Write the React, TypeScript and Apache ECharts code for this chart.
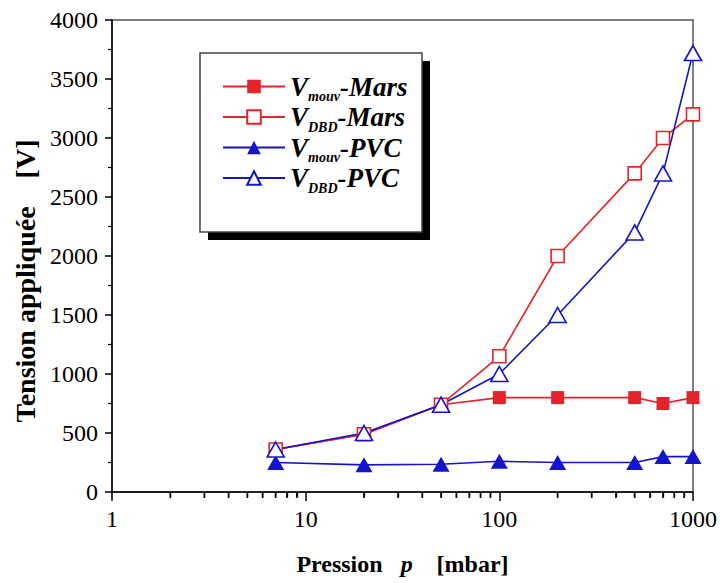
import { useEffect, useRef } from "react";
import * as echarts from "echarts";

const pressures = [7, 20, 50, 100, 200, 500, 700, 1000];
const vMouvMars = [360, 490, 740, 800, 800, 800, 750, 800];
const vDbdMars = [360, 490, 740, 1150, 2000, 2700, 3000, 3200];
const vMouvPvc = [250, 230, 235, 260, 250, 250, 300, 300];
const vDbdPvc = [360, 500, 740, 1000, 1500, 2200, 2700, 3720];
const minorXTicks = [2, 3, 4, 5, 6, 7, 8, 9, 20, 30, 40, 50, 60, 70, 80, 90, 200, 300, 400, 500, 600, 700, 800, 900];

const seriesNames = ["Vmouv-Mars", "VDBD-Mars", "Vmouv-PVC", "VDBD-PVC"];
const legendParts: Record<string, [string, string, string]> = {
  "Vmouv-Mars": ["V", "mouv", "-Mars"],
  "VDBD-Mars": ["V", "DBD", "-Mars"],
  "Vmouv-PVC": ["V", "mouv", "-PVC"],
  "VDBD-PVC": ["V", "DBD", "-PVC"],
};

const RED = "#e3242b";
const BLUE = "#1414c8";
const SERIF = "Liberation Serif";

const pair = (ys: number[]) => pressures.map((p, i) => [p, ys[i]]);

export default function App() {
  const ref = useRef<HTMLDivElement>(null);
  useEffect(() => {
    if (!ref.current) return;
    const chart = echarts.init(ref.current, null, { renderer: "svg" });
    const lineSeries = (name: string, ys: number[], color: string, symbol: string, size: number | number[], filled: boolean) => ({
      type: "line",
      name,
      data: pair(ys),
      symbol,
      symbolSize: size,
      showAllSymbol: true,
      lineStyle: { color, width: 1.6 },
      itemStyle: { color: filled ? color : "#ffffff", borderColor: color, borderWidth: filled ? 0 : 1.6 },
      emphasis: { disabled: true },
      z: 3,
    });
    const txt = { fontFamily: SERIF, color: "#000" };
    chart.setOption({
      animation: false,
      backgroundColor: "#ffffff",
      textStyle: { fontFamily: SERIF },
      grid: { left: 112, right: 26, top: 20, bottom: 91, show: true, borderColor: "#555", borderWidth: 1.5 },
      xAxis: {
        type: "log",
        logBase: 10,
        min: 1,
        max: 1000,
        name: "Pression   {i|p}    [mbar]",
        nameLocation: "middle",
        nameGap: 60,
        nameTextStyle: {
          ...txt,
          fontWeight: "bold",
          fontSize: 24,
          rich: { i: { ...txt, fontWeight: "bold", fontStyle: "italic", fontSize: 24 } },
        },
        axisLine: { show: true, onZero: false, lineStyle: { color: "#000", width: 1.5 } },
        axisTick: { show: true, inside: false, length: 9, lineStyle: { color: "#000", width: 1.5 } },
        minorTick: { show: true, splitNumber: 9, length: 5, lineStyle: { color: "#000", width: 1.3 } },
        axisLabel: { ...txt, fontSize: 24, margin: 15, formatter: (v: number) => String(v) },
        splitLine: { show: false },
        minorSplitLine: { show: false },
      },
      yAxis: {
        type: "value",
        min: 0,
        max: 4000,
        interval: 500,
        name: "Tension appliquée    [V]",
        nameLocation: "middle",
        nameGap: 72,
        nameTextStyle: { ...txt, fontWeight: "bold", fontSize: 28, padding: [0, 50, 0, 0] },
        axisLine: { show: true, lineStyle: { color: "#000", width: 1.5 } },
        axisTick: { show: true, length: 7, lineStyle: { color: "#000", width: 1.5 } },
        minorTick: { show: true, splitNumber: 2, length: 4, lineStyle: { color: "#000", width: 1.2 } },
        axisLabel: { ...txt, fontSize: 24, margin: 14, formatter: (v: number) => String(v) },
        splitLine: { show: false },
      },
      legend: {
        data: seriesNames,
        orient: "vertical",
        left: 222,
        top: 73,
        padding: 0,
        itemGap: 0,
        itemWidth: 62,
        itemHeight: 17,
        selectedMode: false,
        formatter: (name: string) => {
          const [v, s, n] = legendParts[name];
          return `{v|${v}}{s|${s}}{n|${n}}`;
        },
        textStyle: {
          fontFamily: SERIF,
          rich: {
            v: { ...txt, fontWeight: "bold", fontStyle: "italic", fontSize: 27, lineHeight: 34, verticalAlign: "middle" },
            s: { ...txt, fontWeight: "bold", fontStyle: "italic", fontSize: 14, lineHeight: 12, verticalAlign: "bottom" },
            n: { ...txt, fontWeight: "bold", fontStyle: "italic", fontSize: 27, lineHeight: 34, verticalAlign: "middle" },
          },
        },
      },
      graphic: [
        { type: "rect", shape: { x: 208, y: 61, width: 222, height: 179 }, style: { fill: "#000" }, z: 0 },
        { type: "rect", shape: { x: 200, y: 53, width: 222, height: 179 }, style: { fill: "#fff", stroke: "#444", lineWidth: 1.5 }, z: 1 },
      ],
      series: [
        lineSeries("Vmouv-Mars", vMouvMars, RED, "rect", 13, true),
        lineSeries("VDBD-Mars", vDbdMars, RED, "rect", 13, false),
        lineSeries("Vmouv-PVC", vMouvPvc, BLUE, "triangle", [17, 15], true),
        lineSeries("VDBD-PVC", vDbdPvc, BLUE, "triangle", [17, 15], false),
        {
          type: "scatter",
          name: "minor ticks",
          data: minorXTicks.map((x) => [x, 0]),
          symbol: "rect",
          symbolSize: [1.6, 6],
          symbolOffset: [0, 3],
          itemStyle: { color: "#000", opacity: 1 },
          silent: true,
          clip: false,
          z: 10,
        },
      ],
    });
    return () => chart.dispose();
  }, []);
  return <div ref={ref} style={{ position: "fixed", left: 0, top: 0, width: 720, height: 583 }} />;
}
